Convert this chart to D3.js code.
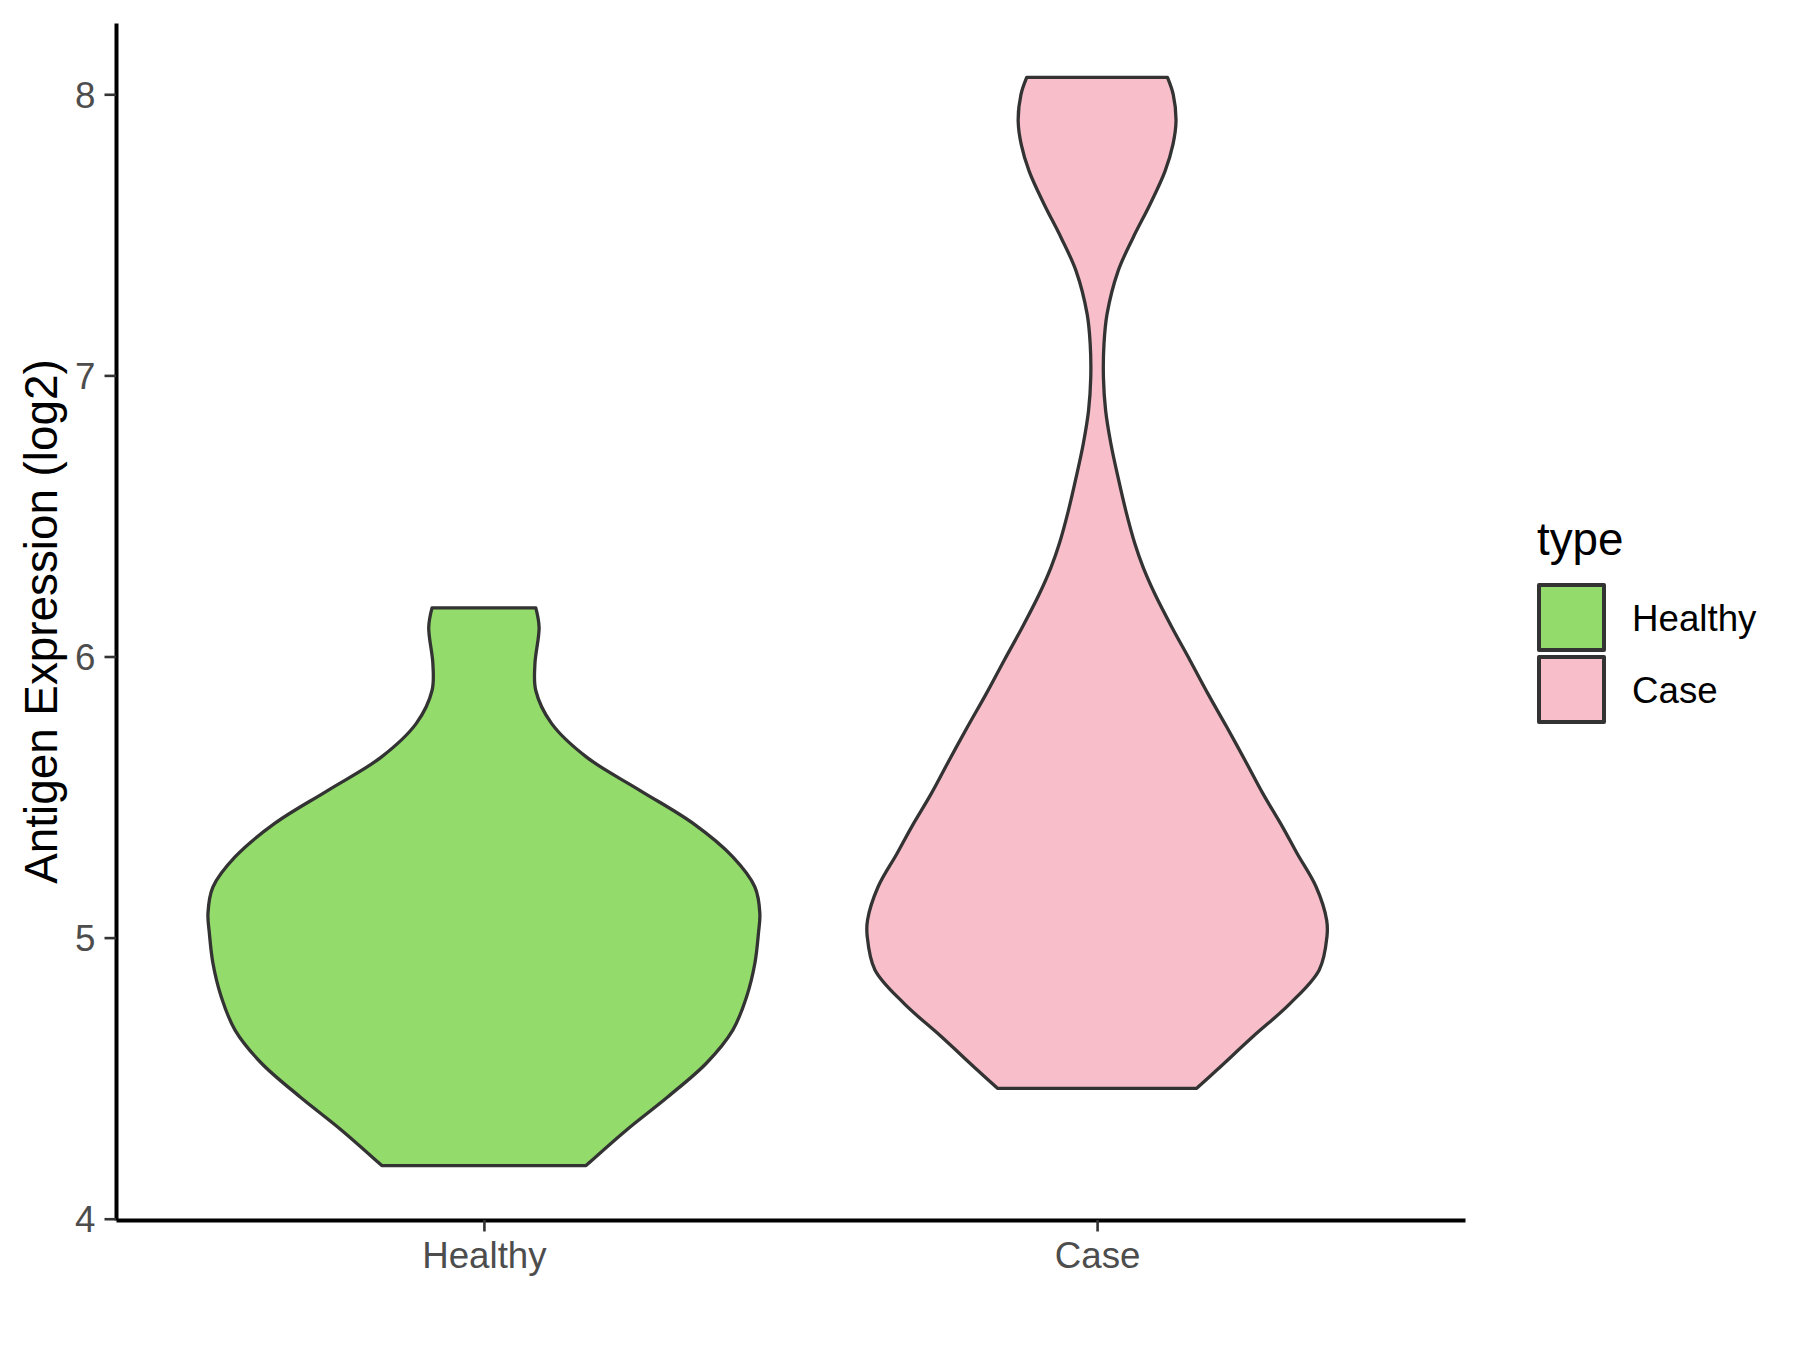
<!DOCTYPE html>
<html>
<head>
<meta charset="utf-8">
<script src="https://cdn.jsdelivr.net/npm/d3@7"></script>
<style>
  body { margin: 0; background: #ffffff; }
  svg { display: block; font-family: "Liberation Sans", Arial, sans-serif; }
</style>
</head>
<body>
<svg id="chart"></svg>
<script>
// categories and legend
const categories = ["Healthy", "Case"];
const legendTitle = "type";
const yTicks = [4, 5, 6, 7, 8];
const yTitle = "Antigen Expression (log2)";

// violin outlines: value (log2) and scaled density (1 = widest)
const healthyValues = [4.189, 4.316, 4.434, 4.554, 4.671, 4.790, 4.909, 5.016, 5.087, 5.180, 5.287, 5.407, 5.524, 5.642, 5.762, 5.879, 5.975, 6.104, 6.173];
const healthyDensity = [0.370, 0.517, 0.667, 0.807, 0.902, 0.952, 0.982, 0.995, 1.000, 0.982, 0.902, 0.757, 0.565, 0.372, 0.245, 0.188, 0.185, 0.200, 0.188];

const caseValues = [4.464, 4.529, 4.648, 4.766, 4.885, 5.003, 5.062, 5.180, 5.299, 5.394, 5.512, 5.631, 5.749, 5.867, 5.986, 6.104, 6.223, 6.317, 6.401, 6.519, 6.637, 6.757, 6.874, 6.992, 7.112, 7.218, 7.371, 7.489, 7.609, 7.726, 7.822, 7.904, 7.999, 8.060];
const caseDensity = [0.361, 0.434, 0.565, 0.700, 0.805, 0.833, 0.832, 0.794, 0.725, 0.672, 0.601, 0.536, 0.470, 0.402, 0.337, 0.271, 0.209, 0.167, 0.137, 0.104, 0.076, 0.050, 0.031, 0.023, 0.025, 0.036, 0.076, 0.130, 0.192, 0.246, 0.275, 0.286, 0.276, 0.255];

const fills = {"Healthy": "#93DB6A", "Case": "#F8BFCB"};

const width = 1800, height = 1350;
const panel = {left: 116, right: 1465, top: 23, bottom: 1220};

const svg = d3.select("#chart").attr("width", width).attr("height", height);

const violins = [
    {name: "Healthy", pts: healthyValues.map((v, i) => ({v: v, w: healthyDensity[i]}))},
    {name: "Case", pts: caseValues.map((v, i) => ({v: v, w: caseDensity[i]}))}
];

// y limits = data range + 5% each side (ggplot default)
const allVals = healthyValues.concat(caseValues);
const lo = d3.min(allVals), hi = d3.max(allVals);
const pad = (hi - lo) * 0.05;
const y = d3.scaleLinear().domain([lo - pad, hi + pad]).range([panel.bottom, panel.top]);

// discrete x: positions 1..n, expanded by 0.6
const x = d3.scaleLinear().domain([0.4, categories.length + 0.6]).range([panel.left, panel.right]);
const unit = x(2) - x(1);
const halfMax = unit * 0.9 / 2;

// violins
violins.forEach(function (d) {
    const cx = x(categories.indexOf(d.name) + 1);
    const area = d3.area()
        .y(p => y(p.v))
        .x0(p => cx - p.w * halfMax)
        .x1(p => cx + p.w * halfMax)
        .curve(d3.curveCatmullRom.alpha(0.5));
    svg.append("path")
        .datum(d.pts)
        .attr("d", area)
        .attr("fill", fills[d.name])
        .attr("stroke", "#333333")
        .attr("stroke-width", 3.3)
        .attr("stroke-linejoin", "round");
});

// axes
const yAxis = d3.axisLeft(y).tickValues(yTicks).tickFormat(d3.format("d"))
    .tickSize(11.5).tickSizeOuter(0).tickPadding(9);
const xAxis = d3.axisBottom(x).tickValues(categories.map((c, i) => i + 1))
    .tickFormat(i => categories[i - 1]).tickSize(11.5).tickSizeOuter(0).tickPadding(9);

const gy = svg.append("g").attr("transform", "translate(" + panel.left + ",0)").call(yAxis);
const gx = svg.append("g").attr("transform", "translate(0," + panel.bottom + ")").call(xAxis);

[gx, gy].forEach(function (g) {
    g.select(".domain").attr("stroke", "#000000").attr("stroke-width", 4);
    g.selectAll(".tick line").attr("stroke", "#333333").attr("stroke-width", 2.6);
    g.selectAll(".tick text")
        .attr("fill", "#4D4D4D")
        .style("font-size", "36.7px")
        .style("font-family", "'Liberation Sans', Arial, sans-serif");
});
gy.selectAll(".tick text").attr("dy", "0.36em");
gx.selectAll(".tick text").attr("dy", "0.74em");

// y title
svg.append("text")
    .attr("transform", "translate(40," + ((panel.top + panel.bottom) / 2) + ") rotate(-90)")
    .attr("text-anchor", "middle")
    .attr("dy", "0.36em")
    .style("font-size", "45.8px")
    .attr("fill", "#000000")
    .text(yTitle);

// legend
const legend = svg.append("g").attr("transform", "translate(1537,0)");
legend.append("text")
    .attr("x", 0)
    .attr("y", 555)
    .style("font-size", "45.8px")
    .attr("fill", "#000000")
    .text(legendTitle);

categories.forEach(function (c, i) {
    const top = 583 + i * 72;
    legend.append("rect")
        .attr("x", 2)
        .attr("y", top + 2)
        .attr("width", 65)
        .attr("height", 65)
        .attr("fill", fills[c])
        .attr("stroke", "#333333")
        .attr("stroke-width", 4)
        .attr("stroke-linejoin", "round");
    legend.append("text")
        .attr("x", 95)
        .attr("y", top + 34.5)
        .attr("dy", "0.36em")
        .style("font-size", "36.7px")
        .attr("fill", "#000000")
        .text(c);
});
</script>
</body>
</html>
